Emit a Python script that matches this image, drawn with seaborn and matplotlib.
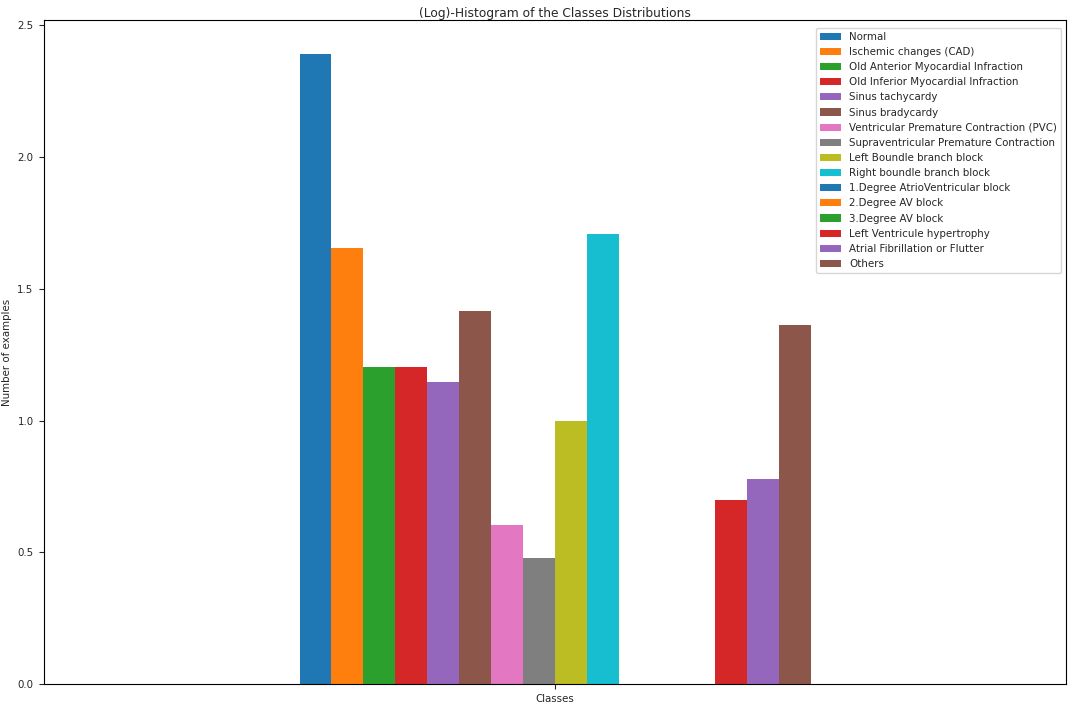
import numpy as np
import pandas as pd
import matplotlib
matplotlib.use("Agg")
import matplotlib.pyplot as plt
import seaborn as sns

classes = ["Normal", "Ischemic changes (CAD)", "Old Anterior Myocardial Infraction",
           "Old Inferior Myocardial Infraction", "Sinus tachycardy", "Sinus bradycardy",
           "Ventricular Premature Contraction (PVC)", "Supraventricular Premature Contraction",
           "Left Boundle branch block", "Right boundle branch block",
           "1.Degree AtrioVentricular block", "2.Degree AV block", "3.Degree AV block",
           "Left Ventricule hypertrophy", "Atrial Fibrillation or Flutter", "Others"]
log_counts = [2.391, 1.653, 1.204, 1.204, 1.146, 1.415, 0.602, 0.477, 1.0, 1.708,
              0.0, 0.0, 0.0, 0.699, 0.778, 1.362]
group = ["Classes"] * len(classes)

df = pd.DataFrame({"group": group, "cls": classes, "val": log_counts})

tab10 = sns.color_palette("tab10", 10)
palette = [tab10[i % 10] for i in range(len(classes))]

sns.set_style("white")
fig = plt.figure(figsize=(10.72, 7.12), dpi=100)
ax = fig.add_axes([44/1072, 1-684/712, (1066-44)/1072, (684-20)/712])
sns.barplot(data=df, x="group", y="val", hue="cls", hue_order=classes, palette=palette,
            width=0.5, gap=0, saturation=1, linewidth=0, ax=ax)
ax.set_xlim(-0.5, 0.5)
ax.set_ylim(0, 2.52)
ax.set_yticks([0, 0.5, 1.0, 1.5, 2.0, 2.5])
ax.set_yticklabels(["0.0", "0.5", "1.0", "1.5", "2.0", "2.5"])
ax.set_xlabel("")
ax.set_ylabel("Number of examples", fontsize=7.4, labelpad=4)
ax.set_title("(Log)-Histogram of the Classes Distributions", fontsize=8.8, pad=2)
ax.tick_params(axis="both", labelsize=7.4, length=3.5, width=0.8, direction="out",
               bottom=True, left=True, pad=4)
for s in ax.spines.values():
    s.set_color("black")
    s.set_linewidth(0.8)
ax.legend(loc="upper right", fontsize=7.4, title=None, frameon=True,
          bbox_to_anchor=(1.0, 0.996))
fig.savefig("out.png", dpi=100)
